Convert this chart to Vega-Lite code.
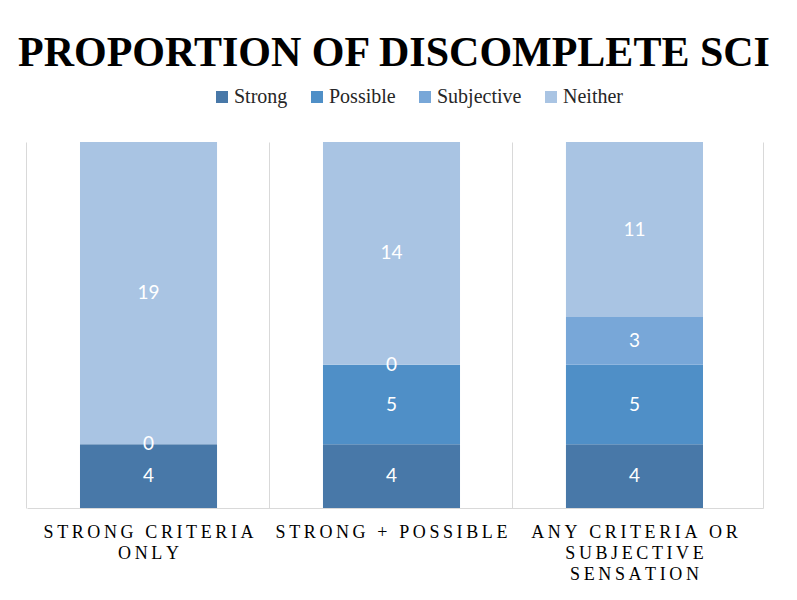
{
  "$schema": "https://vega.github.io/schema/vega-lite/v6.json",
  "width": 736,
  "height": 366,
  "autosize": {"type": "none"},
  "padding": {"left": 27, "top": 142, "right": 34, "bottom": 92},
  "background": "white",
  "view": {"stroke": null},
  "title": {
    "text": "PROPORTION OF DISCOMPLETE SCI",
    "font": "Liberation Serif",
    "fontSize": 42,
    "fontWeight": "bold",
    "color": "#000000",
    "anchor": "middle",
    "frame": "group",
    "baseline": "alphabetic",
    "offset": 20,
    "dy": 41,
    "dx": -1
  },
  "data": {
    "values": [
      {"cat": "Strong criteria only", "type": "Strong", "value": 4},
      {"cat": "Strong criteria only", "type": "Possible", "value": 0},
      {"cat": "Strong criteria only", "type": "Neither", "value": 19},
      {"cat": "Strong + possible", "type": "Strong", "value": 4},
      {"cat": "Strong + possible", "type": "Possible", "value": 5},
      {"cat": "Strong + possible", "type": "Subjective", "value": 0},
      {"cat": "Strong + possible", "type": "Neither", "value": 14},
      {"cat": "Any criteria or subjective sensation", "type": "Strong", "value": 4},
      {"cat": "Any criteria or subjective sensation", "type": "Possible", "value": 5},
      {"cat": "Any criteria or subjective sensation", "type": "Subjective", "value": 3},
      {"cat": "Any criteria or subjective sensation", "type": "Neither", "value": 11}
    ]
  },
  "encoding": {
    "x": {
      "field": "cat",
      "type": "nominal",
      "scale": {
        "domain": ["Strong criteria only", "Strong + possible", "Any criteria or subjective sensation"],
        "paddingInner": 0.436,
        "paddingOuter": 0.2325,
        "align": 0.469
      },
      "axis": {
        "labels": false,
        "ticks": false,
        "grid": true,
        "gridColor": "#d9d9d9",
        "gridWidth": 1,
        "domainColor": "#d9d9d9",
        "domainWidth": 1,
        "bandPosition": -0.387,
        "title": null
      }
    }
  },
  "layer": [
    {
      "transform": [
        {"calculate": "indexof(['Strong','Possible','Subjective','Neither'], datum.type)", "as": "k"},
        {"stack": "value", "groupby": ["cat"], "sort": [{"field": "k", "order": "ascending"}], "as": ["v0", "v1"]}
      ],
      "mark": {"type": "bar"},
      "encoding": {
        "y": {
          "field": "v0",
          "type": "quantitative",
          "scale": {"domain": [0, 23], "nice": false, "zero": true},
          "axis": {"orient": "right", "labels": false, "ticks": false, "grid": false, "domainColor": "#d9d9d9", "title": null}
        },
        "y2": {"field": "v1"},
        "color": {
          "field": "type",
          "type": "nominal",
          "scale": {
            "domain": ["Strong", "Possible", "Subjective", "Neither"],
            "range": ["#4878a8", "#4f8fc7", "#78a7d8", "#a9c4e3"]
          },
          "legend": {
            "orient": "none",
            "legendX": 185,
            "legendY": -55,
            "direction": "horizontal",
            "columns": 4,
            "title": null,
            "symbolType": "square",
            "symbolSize": 144,
            "symbolStrokeWidth": 0,
            "symbolOpacity": 1,
            "labelFont": "Liberation Serif",
            "labelFontSize": 20,
            "labelColor": "#262626",
            "labelOffset": 2,
            "columnPadding": 19
          }
        }
      }
    },
    {
      "transform": [
        {"calculate": "indexof(['Strong','Possible','Subjective','Neither'], datum.type)", "as": "k"},
        {"stack": "value", "groupby": ["cat"], "sort": [{"field": "k", "order": "ascending"}], "as": ["v0", "v1"]},
        {"calculate": "(datum.v0 + datum.v1) / 2", "as": "mid"}
      ],
      "mark": {"type": "text", "color": "white", "font": "Lato", "fontSize": 19, "baseline": "middle", "align": "center"},
      "encoding": {
        "y": {"field": "mid", "type": "quantitative"},
        "text": {"field": "value", "type": "quantitative"}
      }
    },
    {
      "data": {
        "values": [
          {"cat": "Strong criteria only"},
          {"cat": "Strong + possible"},
          {"cat": "Any criteria or subjective sensation"}
        ]
      },
      "transform": [
        {"calculate": "datum.cat == 'Strong criteria only' ? 'STRONG CRITERIA|ONLY' : datum.cat == 'Strong + possible' ? 'STRONG + POSSIBLE' : 'ANY CRITERIA OR|SUBJECTIVE|SENSATION'", "as": "label0"},
        {"calculate": "replace(datum.label0, regexp('([^|])(?=[^|])', 'g'), '$1\u2009')", "as": "label"}
      ],
      "mark": {
        "type": "text",
        "font": "Liberation Serif",
        "fontSize": 18,
        "lineBreak": "|",
        "lineHeight": 21,
        "baseline": "top",
        "align": "center",
        "dy": 16,
        "color": "#000000"
      },
      "encoding": {
        "y": {"datum": 0, "type": "quantitative"},
        "text": {"field": "label"}
      }
    }
  ]
}
